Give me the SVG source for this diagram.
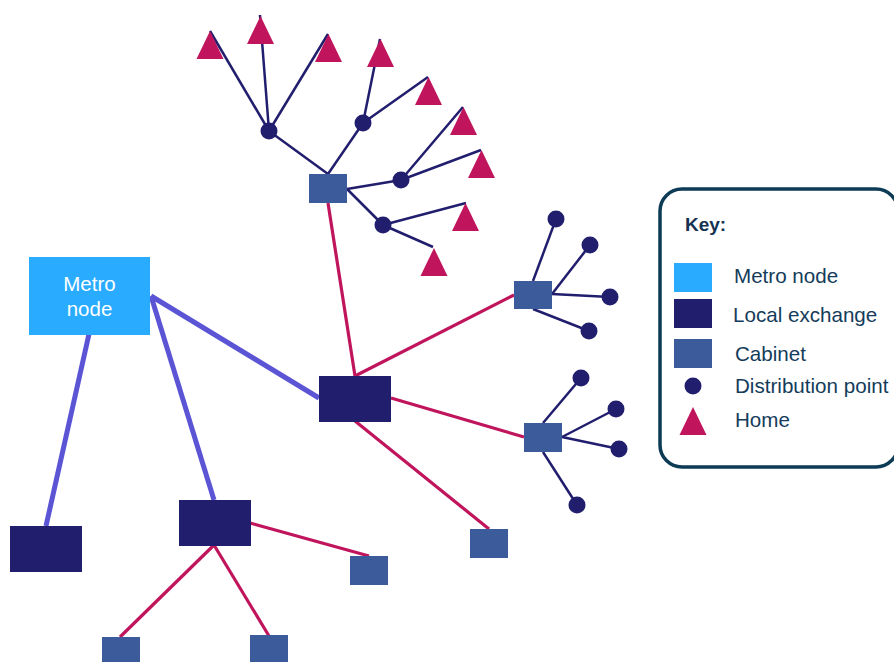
<svg xmlns="http://www.w3.org/2000/svg" xmlns:xlink="http://www.w3.org/1999/xlink" width="894" height="662" viewBox="0 0 894 662">
<style>
.metro{fill:#29abff}
.exch{fill:#221e6e}
.cab{fill:#3b5b9b}
.dp{fill:#221e6e}
.home{fill:#c0155c}
.trunk{stroke:#5b55d6;stroke-width:5;fill:none;stroke-linecap:butt}
.feed{stroke:#c0155c;stroke-width:3.2;fill:none}
.drop{stroke:#221e6e;stroke-width:2.5;fill:none}
.lbl{font-family:"Liberation Sans",Arial,sans-serif;font-size:20.6px;fill:#143c5a}
.key{font-family:"Liberation Sans",Arial,sans-serif;font-size:19px;font-weight:bold;fill:#143250}
.mtxt{font-family:"Liberation Sans",Arial,sans-serif;font-size:20.5px;fill:#ffffff;text-anchor:middle}
</style>
<defs>
<path id="tri" d="M0,0 L13.5,28 L-13.5,28 Z"/>
</defs>
<rect width="894" height="662" fill="#ffffff"/>
<g id="connectors">
<line class="trunk" x1="89" y1="334" x2="46" y2="526"/>
<line class="trunk" x1="151" y1="296" x2="214" y2="500"/>
<line class="trunk" x1="151" y1="296" x2="319" y2="398"/>
<line class="feed" x1="214" y1="545" x2="120" y2="637"/>
<line class="feed" x1="214" y1="545" x2="269" y2="636"/>
<line class="feed" x1="250" y1="523" x2="369" y2="556"/>
<line class="feed" x1="355" y1="376" x2="328" y2="203"/>
<line class="feed" x1="355" y1="376" x2="514" y2="295"/>
<line class="feed" x1="391" y1="398" x2="524" y2="437"/>
<line class="feed" x1="355" y1="421" x2="489" y2="529"/>
<line class="drop" x1="328" y1="174" x2="269" y2="131"/>
<line class="drop" x1="328" y1="174" x2="363" y2="123"/>
<line class="drop" x1="347" y1="189" x2="401" y2="180"/>
<line class="drop" x1="347" y1="189" x2="383" y2="225"/>
<line class="drop" x1="269" y1="131" x2="210" y2="31"/>
<line class="drop" x1="269" y1="131" x2="260" y2="15"/>
<line class="drop" x1="269" y1="131" x2="328" y2="34"/>
<line class="drop" x1="363" y1="123" x2="380" y2="39"/>
<line class="drop" x1="363" y1="123" x2="428" y2="77"/>
<line class="drop" x1="401" y1="180" x2="463" y2="107"/>
<line class="drop" x1="401" y1="180" x2="481" y2="150"/>
<line class="drop" x1="383" y1="225" x2="466" y2="203"/>
<line class="drop" x1="383" y1="225" x2="433" y2="247"/>
<line class="drop" x1="533" y1="281" x2="556" y2="219"/>
<line class="drop" x1="552" y1="294" x2="590" y2="245"/>
<line class="drop" x1="552" y1="294" x2="610" y2="297"/>
<line class="drop" x1="533" y1="309" x2="589" y2="331"/>
<line class="drop" x1="543" y1="423" x2="581" y2="378"/>
<line class="drop" x1="562" y1="437" x2="616" y2="409"/>
<line class="drop" x1="562" y1="437" x2="619" y2="449"/>
<line class="drop" x1="543" y1="452" x2="577" y2="505"/>
</g>
<g id="metro-node"><rect class="metro" x="29" y="257" width="121" height="78"/><text class="mtxt" x="89.5" y="291">Metro</text><text class="mtxt" x="89.5" y="316">node</text></g>
<g id="exchange-left"><rect class="exch" x="10" y="526" width="72" height="46"/></g>
<g id="exchange-mid"><rect class="exch" x="179" y="500" width="72" height="46"/></g>
<g id="exchange-main"><rect class="exch" x="319" y="376" width="72" height="46"/></g>
<g id="cabinet-1"><rect class="cab" x="102" y="637" width="38" height="29"/></g>
<g id="cabinet-2"><rect class="cab" x="250" y="635" width="38" height="29"/></g>
<g id="cabinet-3"><rect class="cab" x="350" y="556" width="38" height="29"/></g>
<g id="cabinet-4"><rect class="cab" x="470" y="529" width="38" height="29"/></g>
<g id="cabinet-top"><rect class="cab" x="309" y="174" width="38" height="29"/></g>
<g id="cabinet-a"><rect class="cab" x="514" y="281" width="38" height="28"/></g>
<g id="cabinet-b"><rect class="cab" x="524" y="423" width="38" height="29"/></g>
<g id="dp-1"><circle class="dp" cx="269" cy="131" r="8.5"/></g>
<g id="dp-2"><circle class="dp" cx="363" cy="123" r="8.5"/></g>
<g id="dp-3"><circle class="dp" cx="401" cy="180" r="8.5"/></g>
<g id="dp-4"><circle class="dp" cx="383" cy="225" r="8.5"/></g>
<g id="dp-5"><circle class="dp" cx="556" cy="219" r="8.5"/></g>
<g id="dp-6"><circle class="dp" cx="590" cy="245" r="8.5"/></g>
<g id="dp-7"><circle class="dp" cx="610" cy="297" r="8.5"/></g>
<g id="dp-8"><circle class="dp" cx="589" cy="331" r="8.5"/></g>
<g id="dp-9"><circle class="dp" cx="581" cy="378" r="8.5"/></g>
<g id="dp-10"><circle class="dp" cx="616" cy="409" r="8.5"/></g>
<g id="dp-11"><circle class="dp" cx="619" cy="449" r="8.5"/></g>
<g id="dp-12"><circle class="dp" cx="577" cy="505" r="8.5"/></g>
<g id="home-1"><use xlink:href="#tri" href="#tri" class="home" x="210" y="31"/></g>
<g id="home-2"><use xlink:href="#tri" href="#tri" class="home" x="260.5" y="16"/></g>
<g id="home-3"><use xlink:href="#tri" href="#tri" class="home" x="328.5" y="34"/></g>
<g id="home-4"><use xlink:href="#tri" href="#tri" class="home" x="380.5" y="39"/></g>
<g id="home-5"><use xlink:href="#tri" href="#tri" class="home" x="428.5" y="77"/></g>
<g id="home-6"><use xlink:href="#tri" href="#tri" class="home" x="463.5" y="107"/></g>
<g id="home-7"><use xlink:href="#tri" href="#tri" class="home" x="481.5" y="150"/></g>
<g id="home-8"><use xlink:href="#tri" href="#tri" class="home" x="465.5" y="203"/></g>
<g id="home-9"><use xlink:href="#tri" href="#tri" class="home" x="434" y="248"/></g>
<g id="legend">
<rect x="660" y="189" width="238" height="278" rx="22" ry="22" fill="#ffffff" stroke="#0d3a55" stroke-width="3.5"/>
<text class="key" x="685" y="231">Key:</text>
<rect class="metro" x="674" y="263" width="38" height="29"/>
<text class="lbl" x="734" y="283">Metro node</text>
<rect class="exch" x="674" y="299" width="38" height="29"/>
<text class="lbl" x="733" y="322">Local exchange</text>
<rect class="cab" x="674" y="339" width="38" height="29"/>
<text class="lbl" x="735" y="361">Cabinet</text>
<circle class="dp" cx="693" cy="386" r="8.5"/>
<text class="lbl" x="735" y="393">Distribution point</text>
<use xlink:href="#tri" href="#tri" class="home" x="693" y="407"/>
<text class="lbl" x="735" y="427">Home</text>
</g>
</svg>
